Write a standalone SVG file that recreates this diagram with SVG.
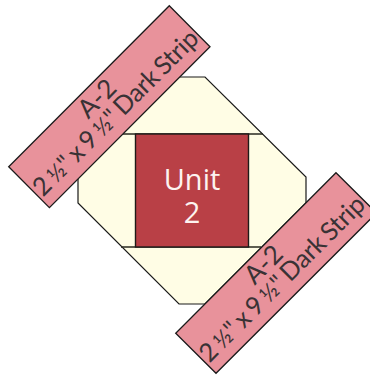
<svg xmlns="http://www.w3.org/2000/svg" width="370" height="376" viewBox="0 0 370 376">
<style>
.strip{fill:#e8929b;stroke:#1a1a1a;stroke-width:1.3;stroke-linejoin:miter}
.lbl{font-family:"Lato","Open Sans",sans-serif;fill:#3a3235;text-anchor:middle;font-size:26px}
.wide{font-size:25.5px;word-spacing:-2px;letter-spacing:-0.25px}
.frac{font-size:23px}
.unit{font-family:"Open Sans","Noto Sans",sans-serif;fill:#fdf3f0;text-anchor:middle;font-size:29px}
</style>
<rect width="370" height="376" fill="#ffffff"/>
<g id="octagon">
<polygon points="179,77 205,77 306,177 306,203 205,304 179,304 78,203 78,177" fill="#fffde5" stroke="#1a1a1a" stroke-width="1.2"/>
</g>
<g id="connectors" stroke="#2a2a20" fill="none">
<path d="M121,134H263M121,247H261" stroke-width="1.4"/>
</g>
<g id="unit-2">
<rect x="135.5" y="134" width="113" height="113" fill="#b94046" stroke="#1e1a18" stroke-width="1.4"/>
<text class="unit"><tspan x="192" y="190">Unit</tspan><tspan x="192" y="223">2</tspan></text>
</g>
<g id="strip-top">
<polygon class="strip" points="169.3,5.7 210,46.7 49.4,207.7 8.7,166.7"/>
<g transform="translate(109.5,107) rotate(-45)">
<text class="lbl" x="-3" y="-6">A-2</text>
<text class="lbl wide" x="0" y="17">2 <tspan class="frac">½</tspan>" x 9 <tspan class="frac">½</tspan>" Dark Strip</text>
</g>
</g>
<g id="strip-bottom">
<polygon class="strip" points="336,172.7 376.5,213 216,373.3 175.7,333.3"/>
<g transform="translate(276,273) rotate(-45)">
<text class="lbl" x="-3" y="-6">A-2</text>
<text class="lbl wide" x="0" y="17">2 <tspan class="frac">½</tspan>" x 9 <tspan class="frac">½</tspan>" Dark Strip</text>
</g>
</g>
</svg>
